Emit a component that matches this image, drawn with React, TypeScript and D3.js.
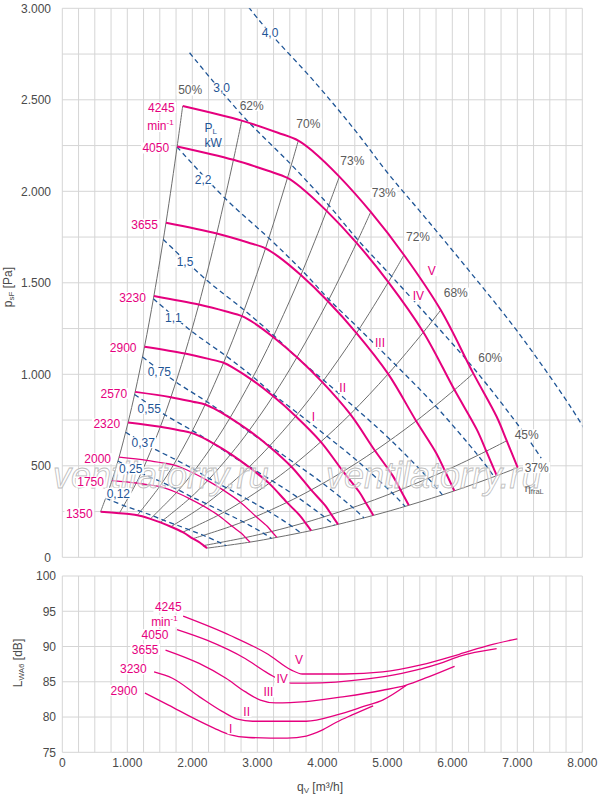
import * as d3 from "d3";

// ---- fan curves p_sF [Pa] over q_V [m3/h], one per speed ----
const speedRpm = [4245, 4050, 3655, 3230, 2900, 2570, 2320, 2000, 1750, 1350];
const curve4245 = [[1852, 2466], [2760, 2386], [3318, 2320], [3631, 2277], [3862, 2216], [4262, 2080], [4745, 1887], [5257, 1652], [5822, 1351], [6323, 1005], [6683, 768], [6837, 637], [7006, 490]];
const curve4050 = [[1767, 2245], [2633, 2172], [3166, 2112], [3464, 2073], [3685, 2017], [4066, 1893], [4527, 1718], [5016, 1504], [5555, 1230], [6033, 915], [6376, 699], [6523, 580], [6684, 446]];
const curve3655 = [[1595, 1828], [2376, 1769], [2857, 1720], [3126, 1688], [3325, 1643], [3670, 1542], [4086, 1399], [4526, 1225], [5013, 1002], [5444, 745], [5754, 569], [5887, 472], [6032, 363]];
const curve3230 = [[1409, 1428], [2100, 1381], [2525, 1343], [2763, 1318], [2939, 1283], [3243, 1204], [3610, 1093], [4000, 957], [4430, 782], [4811, 582], [5085, 445], [5202, 369], [5331, 284]];
const curve2900 = [[1265, 1151], [1886, 1114], [2267, 1083], [2481, 1063], [2638, 1034], [2912, 971], [3242, 881], [3591, 771], [3977, 631], [4320, 469], [4566, 358], [4671, 297], [4786, 229]];
const curve2570 = [[1121, 904], [1671, 875], [2009, 850], [2198, 835], [2338, 812], [2580, 762], [2873, 692], [3183, 606], [3525, 495], [3828, 368], [4046, 282], [4139, 234], [4242, 180]];
const curve2320 = [[1012, 737], [1508, 713], [1813, 693], [1984, 680], [2111, 662], [2329, 621], [2593, 564], [2873, 493], [3182, 404], [3456, 300], [3652, 229], [3737, 190], [3829, 146]];
const curve2000 = [[873, 547], [1300, 530], [1563, 515], [1711, 505], [1820, 492], [2008, 462], [2236, 419], [2477, 367], [2743, 300], [2979, 223], [3149, 171], [3221, 141], [3301, 109]];
const curve1750 = [[764, 419], [1138, 406], [1368, 394], [1497, 387], [1592, 377], [1757, 354], [1956, 321], [2167, 281], [2400, 230], [2607, 171], [2755, 131], [2819, 108], [2888, 83]];
const curve1350 = [[589, 249], [878, 241], [1055, 235], [1155, 230], [1228, 224], [1355, 210], [1509, 191], [1672, 167], [1852, 137], [2011, 102], [2125, 78], [2174, 64], [2228, 50]];
const speedCurves = [curve4245, curve4050, curve3655, curve3230, curve2900, curve2570, curve2320, curve2000, curve1750, curve1350];

// efficiency lines run through the same point of every speed curve
const effLabels = ["50%", "62%", "70%", "73%", "73%", "72%", "68%", "60%", "45%", "37%"];
const effIndex = [0, 1, 3, 5, 6, 7, 8, 9, 11, 12];

// shaft power lines P_L [kW]
const powerLabels = ["4,0", "3,0", "2,2", "1,5", "1,1", "0,75", "0,55", "0,37", "0,25", "0,12"];
const power40 = [[2155, 3340], [3055, 2923], [3879, 2599], [4511, 2330], [5006, 2100], [5577, 1859], [6263, 1564], [7005, 1233], [7805, 830], [8109, 656]];
const power30 = [[1958, 2757], [2775, 2413], [3524, 2145], [4099, 1924], [4548, 1734], [5067, 1535], [5690, 1291], [6364, 1018], [7091, 685], [7368, 542]];
const power22 = [[1766, 2242], [2503, 1962], [3178, 1744], [3696, 1564], [4101, 1410], [4569, 1248], [5132, 1050], [5739, 828], [6395, 557], [6644, 441]];
const power15 = [[1554, 1737], [2203, 1520], [2797, 1351], [3253, 1212], [3610, 1092], [4022, 967], [4516, 813], [5051, 641], [5629, 432], [5848, 341]];
const power11 = [[1402, 1413], [1987, 1236], [2523, 1099], [2934, 986], [3255, 888], [3627, 786], [4073, 661], [4555, 522], [5076, 351], [5274, 278]];
const power075 = [[1234, 1094], [1749, 958], [2220, 851], [2582, 763], [2865, 688], [3192, 609], [3585, 512], [4009, 404], [4468, 272], [4642, 215]];
const power055 = [[1112, 890], [1577, 779], [2002, 692], [2328, 621], [2584, 560], [2878, 495], [3233, 417], [3615, 329], [4029, 221], [4186, 175]];
const power037 = [[975, 683], [1382, 598], [1754, 532], [2040, 477], [2264, 430], [2522, 380], [2833, 320], [3168, 252], [3530, 170], [3668, 134]];
const power025 = [[855, 526], [1212, 460], [1540, 409], [1790, 367], [1987, 331], [2213, 293], [2486, 246], [2780, 194], [3098, 131], [3218, 103]];
const power012 = [[670, 323], [949, 282], [1205, 251], [1402, 225], [1555, 203], [1733, 180], [1946, 151], [2176, 119], [2425, 80], [2520, 63]];
const powerLines = [power40, power30, power22, power15, power11, power075, power055, power037, power025, power012];

// sound power L_WA6 [dB] over q_V
const roman = ["V", "IV", "III", "II", "I"];
const noiseRpm = [4245, 4050, 3655, 3230, 2900];
const noiseV = [[1859, 94.3], [2576, 91.6], [3165, 88.9], [3518, 86.7], [3694, 86.1], [4341, 86.1], [4929, 86.4], [5518, 87.4], [6106, 88.9], [6576, 90.2], [7000, 91.1]];
const noiseIV = [[1765, 92.4], [2224, 90.9], [2812, 88.3], [3165, 86.2], [3518, 84.8], [3753, 84.8], [4694, 85.4], [5224, 86.2], [5812, 87.6], [6106, 88.6], [6682, 89.7]];
const noiseIII = [[1588, 89.5], [2106, 87.6], [2518, 85.5], [2812, 83.6], [3047, 82.4], [3282, 82.0], [3753, 82.2], [4341, 82.9], [4929, 83.8], [5282, 84.5], [5635, 85.7], [6035, 87.2]];
const noiseII = [[1412, 86.4], [1694, 85.5], [2106, 82.9], [2459, 80.8], [2694, 79.7], [2929, 79.4], [3753, 79.4], [4224, 80.3], [4635, 81.5], [4929, 82.4], [5294, 84.5]];
const noiseI = [[1271, 83.4], [1635, 81.7], [2047, 79.7], [2341, 78.4], [2576, 77.5], [2871, 77.1], [3459, 77.0], [3753, 77.3], [3988, 78.1], [4224, 79.3], [4459, 80.3], [4782, 81.6]];
const noiseCurves = [noiseV, noiseIV, noiseIII, noiseII, noiseI];

const pressureTicks = [0, 500, 1000, 1500, 2000, 2500, 3000];
const levelTicks = [75, 80, 85, 90, 95, 100];
const flowTicks = [0, 1000, 2000, 3000, 4000, 5000, 6000, 7000, 8000];

const MAG = "#e5007e";
const BLUE = "#1f5596";
const GRAY = "#6e6e6e";
const GRID = "#d5d5d5";
const TXT = "#4a4a4a";
const FONT = "Liberation Sans, Arial, Helvetica, sans-serif";

const fmt = d3.formatLocale({ decimal: ",", thousands: ".", grouping: [3], currency: ["", ""] }).format(",d");

const CW: Record<string, number> = { ",": 0.278, ".": 0.278, "%": 0.889, V: 0.667, I: 0.278 };
const textW = (s: string, size: number) => d3.sum(Array.from(s), (c) => CW[c] ?? 0.556) * size;

type LabelProps = { x: number; y: number; text: string; fill: string; anchor?: "start" | "middle" | "end"; size?: number };

function Label({ x, y, text, fill, anchor = "middle", size = 12 }: LabelProps) {
  const w = textW(text, size);
  const x0 = anchor === "middle" ? x - w / 2 : anchor === "end" ? x - w : x;
  return (
    <g>
      <rect x={x0 - 1.5} y={y - 5.5} width={w + 3} height={11} fill="white" />
      <text x={x} y={y} dy="0.36em" textAnchor={anchor} fill={fill} fontSize={size}>
        {text}
      </text>
    </g>
  );
}

function MinLabel({ x, y }: { x: number; y: number }) {
  // "min-1", right edge at x
  return (
    <g>
      <rect x={x - 28} y={y - 6} width={29} height={12} fill="white" />
      <text x={x - 26.5} y={y} dy="0.36em" fill={MAG} fontSize={12}>
        min<tspan fontSize={8} dy={-5}>-1</tspan>
      </text>
    </g>
  );
}

export default function App() {
  const x = d3.scaleLinear().domain([0, 8000]).range([62.3, 582.3]);
  const yP = d3.scaleLinear().domain([0, 3000]).range([557.3, 8.3]);
  const yL = d3.scaleLinear().domain([75, 100]).range([752.3, 576]);

  const smoothLine = d3.line<number[]>().x((d) => x(d[0])).y((d) => yP(d[1])).curve(d3.curveCatmullRom.alpha(0.5));
  const noiseLine = d3.line<number[]>().x((d) => x(d[0])).y((d) => yL(d[1])).curve(d3.curveMonotoneX);

  const gridQ = d3.range(0, 8001, 250);
  const gridP = d3.range(0, 3001, 250);

  const thinSpeeds = [2000, 1750];
  const effOffset = [[7.5, -16], [10, -15], [10, -16.7], [13, -16], [13, -19], [14, -18], [15, -17], [17, -16], [20, -6], [19, 0]];
  const powerOffset = [[67.6, 87], [32, 35.3], [26, 33], [21.7, 22.6], [20, 18.5], [16.8, 14.7], [14.7, 13.9], [17.6, 10.4], [12.8, 8], [12.5, -5]];
  const romanTopOffset = [[27.7, 15.7], [30, 13.6], [23.5, 9.6], [20.4, 5.5], [17.6, 0.5]];
  const romanBotOffset = [[-3.4, -14.3], [-8.8, -4.3], [8.1, -8.2], [9.3, -7.6], [0.9, -5.9]];
  const noiseLabelOffset = [[-1.5, -9.3], [-8.7, 5], [-7, -0.7], [-7.4, -3], [-7.6, -2.6]];

  const top37 = curve4245[12];

  return (
    <div style={{ position: "absolute", left: 0, top: 0 }}>
      <svg width={600} height={796} fontFamily={FONT}>
        <defs>
          <clipPath id="plotTop">
            <rect x={x(0)} y={yP(3000)} width={x(8000) - x(0)} height={yP(0) - yP(3000)} />
          </clipPath>
        </defs>

        {/* grids */}
        <g stroke={GRID} strokeWidth={1}>
          {gridQ.map((q) => (
            <line key={"tv" + q} x1={x(q)} x2={x(q)} y1={yP(0)} y2={yP(3000)} />
          ))}
          {gridP.map((p) => (
            <line key={"th" + p} x1={x(0)} x2={x(8000)} y1={yP(p)} y2={yP(p)} />
          ))}
          {gridQ.map((q) => (
            <line key={"bv" + q} x1={x(q)} x2={x(q)} y1={yL(75)} y2={yL(100)} />
          ))}
          {levelTicks.map((l) => (
            <line key={"bh" + l} x1={x(0)} x2={x(8000)} y1={yL(l)} y2={yL(l)} />
          ))}
        </g>

        {/* tick labels */}
        <g fill={TXT} fontSize={12}>
          {pressureTicks.map((p) => (
            <text key={p} x={51} y={yP(p)} dy="0.36em" textAnchor="end">
              {fmt(p)}
            </text>
          ))}
          {levelTicks.map((l) => (
            <text key={l} x={56} y={yL(l)} dy="0.36em" textAnchor="end">
              {l}
            </text>
          ))}
          {flowTicks.map((q) => (
            <text key={q} x={x(q)} y={763} dy="0.36em" textAnchor="middle">
              {fmt(q)}
            </text>
          ))}
        </g>

        {/* axis titles */}
        <g fill={TXT} fontSize={12}>
          <text transform="translate(12,287) rotate(-90)" textAnchor="middle">
            p<tspan fontSize={8} dy={2}>sF</tspan>
            <tspan dy={-2}> [Pa]</tspan>
          </text>
          <text transform="translate(22,663) rotate(-90)" textAnchor="middle">
            L<tspan fontSize={8} dy={2}>WA6</tspan>
            <tspan dy={-2}> [dB]</tspan>
          </text>
          <text x={320} y={791} textAnchor="middle">
            q<tspan fontSize={8} dy={2}>V</tspan>
            <tspan dy={-2}> [m³/h]</tspan>
          </text>
        </g>

        {/* top chart curves */}
        <g clipPath="url(#plotTop)" fill="none">
          {effIndex.map((idx, i) => (
            <path key={"e" + i} d={smoothLine(speedCurves.map((c) => c[idx])) || ""} stroke={GRAY} strokeWidth={1} />
          ))}
          {powerLines.map((pl, i) => (
            <path key={"p" + i} d={smoothLine(pl) || ""} stroke={BLUE} strokeWidth={1.3} strokeDasharray="5 3.5" />
          ))}
          {speedCurves.map((c, i) => (
            <path
              key={"s" + i}
              d={smoothLine(c) || ""}
              stroke={MAG}
              strokeWidth={thinSpeeds.includes(speedRpm[i]) ? 1.3 : 2}
            />
          ))}
        </g>

        {/* bottom chart curves */}
        <g fill="none" stroke={MAG} strokeWidth={1.3}>
          {noiseCurves.map((c, i) => (
            <path key={"n" + i} d={noiseLine(c) || ""} />
          ))}
        </g>

        {/* watermark */}
        <g fontSize={36} fontStyle="italic" fill="white" fillOpacity={0.5} stroke="#bcbcbc" strokeWidth={0.8}>
          <text x={53} y={488}>ventilatorry.ru</text>
          <text x={326} y={488}>ventilatorry.ru</text>
        </g>

        {/* top labels */}
        {speedCurves.map((c, i) => (
          <Label key={"sl" + i} x={x(c[0][0]) - 8} y={yP(c[0][1]) + 1.5} text={String(speedRpm[i])} fill={MAG} anchor="end" />
        ))}
        <MinLabel x={x(curve4245[0][0]) - 9} y={yP(curve4245[0][1]) + 20} />

        {effIndex.map((idx, i) => (
          <Label
            key={"el" + i}
            x={x(curve4245[idx][0]) + effOffset[i][0]}
            y={yP(curve4245[idx][1]) + effOffset[i][1]}
            text={effLabels[i]}
            fill={"#5c5c5c"}
          />
        ))}
        <text x={x(top37[0]) + 7} y={yP(top37[1]) + 24} fill="#5c5c5c" fontSize={11}>
          η<tspan fontSize={7.5} dy={2.5}>fraL</tspan>
        </text>

        {powerLines.map((pl, i) => (
          <Label
            key={"pl" + i}
            x={x(pl[0][0]) + powerOffset[i][0]}
            y={yP(pl[0][1]) + powerOffset[i][1]}
            text={powerLabels[i]}
            fill={BLUE}
          />
        ))}
        <g fill={BLUE} fontSize={12} textAnchor="middle">
          <text x={x(curve4245[0][0]) + 28} y={yP(curve4245[0][1]) + 26}>
            P<tspan fontSize={8} dy={2}>L</tspan>
          </text>
          <text x={x(curve4245[0][0]) + 30.5} y={yP(curve4245[0][1]) + 41}>
            kW
          </text>
        </g>

        {roman.map((r, i) => {
          const pt = speedCurves[i][7];
          return (
            <Label
              key={"rt" + r}
              x={x(pt[0]) + romanTopOffset[i][0]}
              y={yP(pt[1]) + romanTopOffset[i][1]}
              text={r}
              fill={MAG}
            />
          );
        })}

        {/* bottom labels */}
        {noiseCurves.map((c, i) => (
          <Label
            key={"nl" + i}
            x={x(c[0][0]) + noiseLabelOffset[i][0]}
            y={yL(c[0][1]) + noiseLabelOffset[i][1]}
            text={String(noiseRpm[i])}
            fill={MAG}
            anchor="end"
          />
        ))}
        <MinLabel x={x(noiseV[0][0]) - 5.5} y={yL(noiseV[0][1]) + 5} />
        {roman.map((r, i) => {
          const pt = noiseCurves[i][4];
          return (
            <Label
              key={"rb" + r}
              x={x(pt[0]) + romanBotOffset[i][0]}
              y={yL(pt[1]) + romanBotOffset[i][1]}
              text={r}
              fill={MAG}
            />
          );
        })}
      </svg>
    </div>
  );
}
